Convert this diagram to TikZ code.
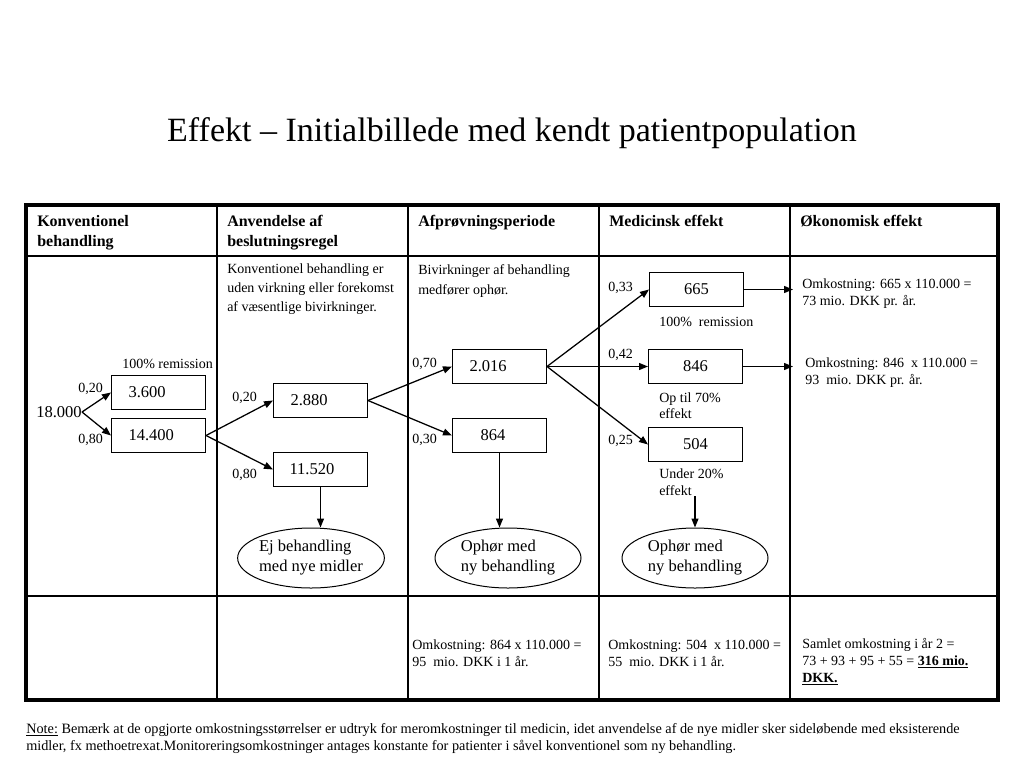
\documentclass[tikz,border=0pt]{standalone}
\usepackage{fontspec}
\setmainfont{Liberation Serif}
\usetikzlibrary{arrows.meta,shapes.geometric}
\begin{document}
\begin{tikzpicture}[x=0.75pt,y=-0.75pt,
  sm/.style={font=\fontsize{10.5}{12.75}\selectfont, inner sep=0pt, align=left},
  hd/.style={font=\bfseries\fontsize{12}{15}\selectfont, inner sep=0pt, align=left, anchor=north west},
  numbox/.style={draw, line width=0.75pt, minimum width=70.5pt, minimum height=25.5pt, anchor=north west, font=\fontsize{12.4}{15}\selectfont},
  cbox/.style={numbox, align=center},
  lbox/.style={numbox, align=left},
  ell/.style={draw, ellipse, line width=0.75pt, minimum width=109.5pt, minimum height=45pt, inner sep=0pt, align=left, font=\fontsize{12.4}{15}\selectfont},
  arr/.style={-{Triangle[length=6.75pt,width=5.25pt]}, line width=0.95pt},
  grid/.style={line width=1.1pt},
  hgrid/.style={line width=1.5pt}
]
\useasboundingbox (0,0) rectangle (1024,768);
\fill[white] (0,0) rectangle (1024,768);

% title
\node[font=\fontsize{25.5}{30}\selectfont, inner sep=0pt] (title) at (512,133) {Effekt – Initialbillede med kendt patientpopulation};

% table grid
\coordinate (tl) at (26,205);
\coordinate (br) at (998,700);
\coordinate (c1) at (217,205);
\coordinate (c2) at (408,205);
\coordinate (c3) at (599,205);
\coordinate (c4) at (790,205);
\coordinate (c4a) at (793,205);
\coordinate (r1) at (26,256);
\coordinate (r2) at (26,596);
\foreach \c in {c1,c2,c3,c4} \draw[grid] (\c) -- (\c |- br);
\draw[hgrid] (r1) -- (r1 -| br);
\draw[hgrid] (r2) -- (r2 -| br);
\draw[line width=2.4pt] (tl) rectangle (br);

% headers
\node[hd] (h1) at (37,215) {Konventionel\\behandling};
\node[hd] (h2) at (227,215) {Anvendelse af\\beslutningsregel};
\node[hd] (h3) at (418,215) {Afprøvningsperiode};
\node[hd] (h4) at (609,215) {Medicinsk effekt};
\node[hd] (h5) at (800,215) {Økonomisk effekt};

% column texts
\node[sm, anchor=north west, font=\fontsize{10.5}{13.9}\selectfont] (rule) at (227,264) {Konventionel behandling er\\uden virkning eller forekomst\\af væsentlige bivirkninger.};
\node[sm, anchor=north west, font=\fontsize{10.5}{15.5}\selectfont] (biv) at (418,264) {Bivirkninger af behandling\\medfører ophør.};

% first column
\node[inner sep=0pt, anchor=west, font=\fontsize{12.4}{15}\selectfont] (n18) at (36,412) {18.000};
\node[lbox, text width=45pt, inner xsep=12.75pt] (b3600) at (111,375) {3.600};
\node[lbox, text width=45pt, inner xsep=12.75pt] (b14400) at (111,418) {14.400};
\node[sm, anchor=west] (rem1) at (122,364) {100\% remission};
\node[sm, anchor=west] (p020a) at (78,389) {0,20};
\node[sm, anchor=west] (p080a) at (78,440) {0,80};
\draw[arr] (n18.east) -- (b3600.west);
\draw[arr] (n18.east) -- (b14400.west);

% second column
\node[lbox, text width=45pt, inner xsep=12.75pt] (b2880) at (273,383) {2.880};
\node[lbox, text width=46.5pt, inner xsep=12pt] (b11520) at (273,452) {11.520};
\node[sm, anchor=west] (p020b) at (232,398) {0,20};
\node[sm, anchor=west] (p080b) at (232,475) {0,80};
\draw[arr] (b14400.east) -- (b2880.west);
\draw[arr] (b14400.east) -- (b11520.west);
\node[ell] (e1) at (311,558) {Ej behandling\\med nye midler};
\draw[arr] (b11520.south) -- (b11520.south |- e1.north);

% third column
\node[lbox, text width=45pt, inner xsep=12.75pt] (b2016) at (452,349) {2.016};
\node[lbox, text width=28.5pt, inner xsep=21pt] (b864) at (452,418) {864};
\node[sm, anchor=west] (p070) at (412,364) {0,70};
\node[sm, anchor=west] (p030) at (412,440) {0,30};
\draw[arr] (b2880.east) -- (b2016.west);
\draw[arr] (b2880.east) -- (b864.west);
\node[ell] (e2) at (508,558) {Ophør med\\ny behandling};
\draw[arr] (b864.south) -- (b864.south |- e2.north);

% fourth column
\node[cbox] (b665) at (649,272) {665};
\node[cbox] (b846) at (648,349) {846};
\node[cbox] (b504) at (648,427) {504};
\node[sm, anchor=west] (p033) at (608,288) {0,33};
\node[sm, anchor=west] (p042) at (608,355) {0,42};
\node[sm, anchor=west] (p025) at (608,441) {0,25};
\node[sm, anchor=west] (rem2) at (659,322) {100\%~ remission};
\node[sm, anchor=north west, font=\fontsize{10.5}{12}\selectfont] (op70) at (659,393) {Op til 70\%\\effekt};
\node[sm, anchor=north west, font=\fontsize{10.5}{12.75}\selectfont] (u20) at (659,469) {Under 20\%\\effekt};
\draw[arr] (b2016.east) -- (b665.west);
\draw[arr] (b2016.east) -- (b846.west);
\draw[arr] (b2016.east) -- (b504.west);
\node[ell] (e3) at (695,558) {Ophør med\\ny behandling};
\draw[arr] (e3.north |- u20.south) -- (e3.north);

% fifth column
\node[sm, anchor=north west] (omk665) at (802,279) {Omkostning: 665 x 110.000 =\\73 mio. DKK pr. år.};
\node[sm, anchor=north west] (omk846) at (805,358) {Omkostning: 846~ x 110.000 =\\93~ mio. DKK pr. år.};
\draw[arr] (b665.east) -- (b665.east -| c4a);
\draw[arr] (b846.east) -- (b846.east -| c4a);

% bottom row
\node[sm, anchor=north west] (omk864) at (412,640) {Omkostning: 864 x 110.000 =\\95~ mio. DKK i 1 år.};
\node[sm, anchor=north west] (omk504) at (608,640) {Omkostning: 504~ x 110.000 =\\55~ mio. DKK i 1 år.};
\node[sm, anchor=north west] (total) at (802,638) {Samlet omkostning i år 2 =\\73 + 93 + 95 + 55 = \underline{\textbf{316 mio.}}\\\underline{\textbf{DKK.}}};

% note
\node[sm, anchor=north west, font=\fontsize{10.7}{12.75}\selectfont] (note) at (26,723) {\underline{Note:} Bemærk at de opgjorte omkostningsstørrelser er udtryk for meromkostninger til medicin, idet anvendelse af de nye midler sker sideløbende med eksisterende\\midler, fx methoetrexat.Monitoreringsomkostninger antages konstante for patienter i såvel konventionel som ny behandling.};
\end{tikzpicture}
\end{document}
